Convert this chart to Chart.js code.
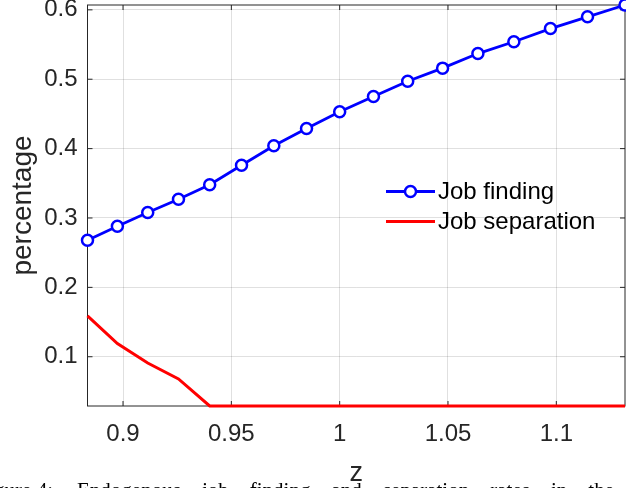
<!DOCTYPE html>
<html>
<head>
<meta charset="utf-8">
<script src="https://cdn.jsdelivr.net/npm/chart.js@4/dist/chart.umd.min.js"></script>
<style>
  body { margin: 0; background: #fff; }
  #wrap { width: 626px; height: 488px; position: relative; }
</style>
</head>
<body>
<div id="wrap"><canvas id="rateChart"></canvas></div>
<script>
// productivity grid z
const zValues = [0.8836, 0.8974, 0.9114, 0.9256, 0.9400, 0.9547, 0.9696, 0.9847, 1.0000,
                 1.0156, 1.0314, 1.0475, 1.0638, 1.0804, 1.0973, 1.1144, 1.1317];
// rates
const jobFinding = [0.268, 0.288, 0.308, 0.327, 0.348, 0.376, 0.404, 0.429, 0.453,
                    0.475, 0.497, 0.516, 0.537, 0.554, 0.573, 0.590, 0.607];
const jobSeparation = [0.159, 0.119, 0.091, 0.068, 0.029, 0.029, 0.029, 0.029, 0.029,
                       0.029, 0.029, 0.029, 0.029, 0.029, 0.029, 0.029, 0.029];
const seriesNames = ['Job finding', 'Job separation'];

// tick labels
const xTicks = [0.9, 0.95, 1, 1.05, 1.1];
const yTicks = [0.1, 0.2, 0.3, 0.4, 0.5, 0.6];

const captionLead = 'Figure 4:';
const captionText = 'Endogenous job finding and separation rates in the';

const axisColor = '#262626';
const gridColor = 'rgba(0,0,0,0.12)';
const sansFont = 'Liberation Sans, Arial, Helvetica, sans-serif';

const toPoints = ys => zValues.map((z, i) => ({ x: z, y: ys[i] }));

// box around the axes with inward ticks
const frame = {
    id: 'frame',
    beforeDatasetsDraw(chart) {
        const { ctx, chartArea: a, scales } = chart;
        const len = 5;
        ctx.save();
        ctx.strokeStyle = axisColor;
        ctx.lineWidth = 1;
        ctx.strokeRect(a.left, a.top, a.right - a.left, a.bottom - a.top);
        ctx.beginPath();
        xTicks.forEach(v => {
            const px = scales.x.getPixelForValue(v);
            ctx.moveTo(px, a.bottom); ctx.lineTo(px, a.bottom - len);
            ctx.moveTo(px, a.top); ctx.lineTo(px, a.top + len);
        });
        yTicks.forEach(v => {
            const py = scales.y.getPixelForValue(v);
            ctx.moveTo(a.left, py); ctx.lineTo(a.left + len, py);
            ctx.moveTo(a.right, py); ctx.lineTo(a.right - len, py);
        });
        ctx.stroke();
        ctx.restore();
    }
};

// legend without box, inside the axes
const boxlessLegend = {
    id: 'boxlessLegend',
    afterDatasetsDraw(chart) {
        const ctx = chart.ctx;
        const x0 = 386, x1 = 435, tx = 438;
        const rows = [191.5, 221.5];
        ctx.save();
        ctx.font = '24px ' + sansFont;
        ctx.textBaseline = 'middle';
        chart.data.datasets.forEach((ds, i) => {
            const y = rows[i];
            ctx.strokeStyle = ds.borderColor;
            ctx.lineWidth = ds.borderWidth;
            ctx.beginPath();
            ctx.moveTo(x0, y); ctx.lineTo(x1, y);
            ctx.stroke();
            if (ds.pointRadius > 0) {
                ctx.beginPath();
                ctx.arc((x0 + x1) / 2, y, ds.pointRadius, 0, Math.PI * 2);
                ctx.fillStyle = ds.pointBackgroundColor;
                ctx.fill();
                ctx.lineWidth = ds.pointBorderWidth;
                ctx.stroke();
            }
            ctx.fillStyle = '#000';
            ctx.fillText(ds.label, tx, y + 1);
        });
        ctx.restore();
    }
};

// caption line of the page below the figure
const caption = {
    id: 'caption',
    beforeDraw(chart) {
        const ctx = chart.ctx;
        const base = 497;
        ctx.save();
        ctx.font = '21px Liberation Serif, Times New Roman, serif';
        ctx.fillStyle = '#000';
        ctx.textBaseline = 'alphabetic';
        ctx.textAlign = 'right';
        ctx.fillText(captionLead, 53, base);
        ctx.textAlign = 'left';
        const words = captionText.split(' ');
        const widths = words.map(w => ctx.measureText(w).width);
        const used = widths.reduce((s, w) => s + w, 0);
        const start = 77, end = 614;
        const gap = (end - start - used) / (words.length - 1);
        let x = start;
        words.forEach((w, i) => {
            ctx.fillText(w, x, base);
            x += widths[i] + gap;
        });
        ctx.restore();
    }
};

const fmt = v => String(Math.round(v * 100) / 100);

new Chart(document.getElementById('rateChart'), {
    type: 'line',
    data: {
        datasets: [{
            label: seriesNames[0],
            data: toPoints(jobFinding),
            borderColor: '#0000ff',
            borderWidth: 2.8,
            pointRadius: 5.5,
            pointBorderWidth: 2.5,
            pointBackgroundColor: '#ffffff',
            pointBorderColor: '#0000ff',
            tension: 0,
            clip: false
        }, {
            label: seriesNames[1],
            data: toPoints(jobSeparation),
            borderColor: '#ff0000',
            borderWidth: 3,
            pointRadius: 0,
            tension: 0,
            clip: false
        }]
    },
    options: {
        responsive: true,
        maintainAspectRatio: false,
        animation: false,
        layout: { autoPadding: false, padding: { top: 5, right: 1, left: 0, bottom: 0 } },
        plugins: {
            legend: { display: false },
            tooltip: { enabled: false }
        },
        scales: {
            x: {
                type: 'linear',
                min: zValues[0],
                max: zValues[zValues.length - 1],
                afterBuildTicks: s => { s.ticks = xTicks.map(v => ({ value: v })); },
                afterFit: s => {
                    s.height = 82;
                    s.paddingLeft = 0;
                    s.paddingRight = 0;
                },
                grid: { color: gridColor, drawTicks: false },
                border: { display: false },
                ticks: {
                    color: axisColor,
                    padding: 14,
                    maxRotation: 0,
                    font: { family: sansFont, size: 24 },
                    callback: fmt
                },
                title: {
                    display: true,
                    text: 'z',
                    color: axisColor,
                    padding: { top: 0, bottom: -2 },
                    font: { family: sansFont, size: 27 }
                }
            },
            y: {
                type: 'linear',
                min: Math.min(...jobSeparation),
                max: Math.max(...jobFinding),
                afterBuildTicks: s => { s.ticks = yTicks.map(v => ({ value: v })); },
                afterFit: s => {
                    s.width = 87.5;
                    s.paddingTop = 0;
                    s.paddingBottom = 0;
                },
                grid: { color: gridColor, drawTicks: false },
                border: { display: false },
                ticks: {
                    color: axisColor,
                    padding: 10,
                    font: { family: sansFont, size: 24 },
                    callback: fmt
                },
                title: {
                    display: true,
                    text: 'percentage',
                    color: axisColor,
                    padding: { top: 6, bottom: 0 },
                    font: { family: sansFont, size: 28 }
                }
            }
        }
    },
    plugins: [caption, frame, boxlessLegend]
});
</script>
</body>
</html>
